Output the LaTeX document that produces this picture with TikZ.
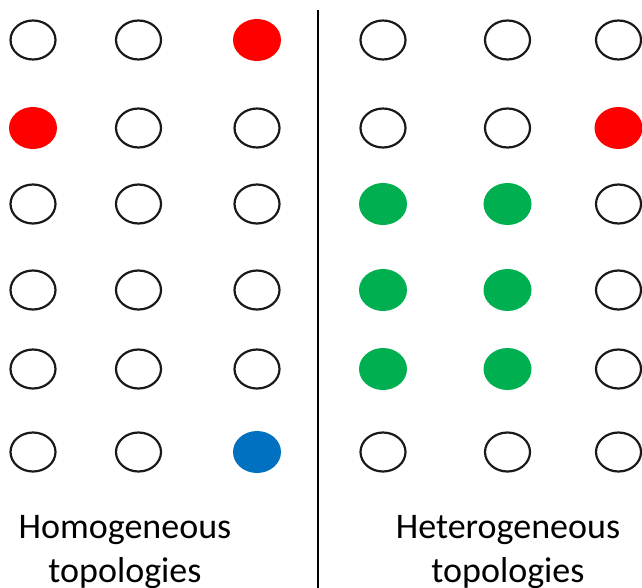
\documentclass[tikz,border=0pt]{standalone}
\usepackage{fontspec}
\setmainfont{Carlito}
\usetikzlibrary{shapes.geometric}
\definecolor{myred}{HTML}{FF0000}
\definecolor{mygreen}{HTML}{00B050}
\definecolor{myblue}{HTML}{0070C0}
\tikzset{
  dotempty/.style={ellipse, draw=black!90, line width=2.2pt, fill=white, minimum width=45pt, minimum height=39pt, inner sep=0pt},
  dotfill/.style={ellipse, fill=#1, draw=none, minimum width=48pt, minimum height=42pt, inner sep=0pt},
  lbl/.style={font=\fontsize{36pt}{44pt}\selectfont, align=center, anchor=base, inner sep=0pt}
}
\begin{document}
\begin{tikzpicture}[x=1pt,y=-1pt]
\useasboundingbox (0,0) rectangle (642,587);
% left panel
\node[dotempty] (l11) at (33,40) {};
\node[dotempty] (l12) at (138.5,40) {};
\node[dotfill=myred] (l13) at (257,40) {};
\node[dotfill=myred] (l21) at (33,128) {};
\node[dotempty] (l22) at (138.5,128) {};
\node[dotempty] (l23) at (257,128) {};
\node[dotempty] (l31) at (33,204) {};
\node[dotempty] (l32) at (138.5,204) {};
\node[dotempty] (l33) at (257,204) {};
\node[dotempty] (l41) at (33,290) {};
\node[dotempty] (l42) at (138.5,290) {};
\node[dotempty] (l43) at (257,290) {};
\node[dotempty] (l51) at (33,369) {};
\node[dotempty] (l52) at (138.5,369) {};
\node[dotempty] (l53) at (257,369) {};
\node[dotempty] (l61) at (33,452) {};
\node[dotempty] (l62) at (138.5,452) {};
\node[dotfill=myblue] (l63) at (257,452) {};
% right panel
\node[dotempty] (r11) at (383,40) {};
\node[dotempty] (r12) at (507.5,40) {};
\node[dotempty] (r13) at (618.5,40) {};
\node[dotempty] (r21) at (383,128) {};
\node[dotempty] (r22) at (507.5,128) {};
\node[dotfill=myred] (r23) at (618.5,128) {};
\node[dotfill=mygreen] (r31) at (383,204) {};
\node[dotfill=mygreen] (r32) at (507.5,204) {};
\node[dotempty] (r33) at (618.5,204) {};
\node[dotfill=mygreen] (r41) at (383,290) {};
\node[dotfill=mygreen] (r42) at (507.5,290) {};
\node[dotempty] (r43) at (618.5,290) {};
\node[dotfill=mygreen] (r51) at (383,369) {};
\node[dotfill=mygreen] (r52) at (507.5,369) {};
\node[dotempty] (r53) at (618.5,369) {};
\node[dotempty] (r61) at (383,452) {};
\node[dotempty] (r62) at (507.5,452) {};
\node[dotempty] (r63) at (618.5,452) {};
% divider
\coordinate (dtop) at (318,10);
\coordinate (dbot) at (318,590);
\draw[line width=2.5pt, black] (dtop) -- (dbot);
% labels
\node[lbl] (homo) at (125,582.5) {Homogeneous\\topologies};
\node[lbl] (hetero) at (508,582.5) {Heterogeneous\\topologies};
\end{tikzpicture}
\end{document}
